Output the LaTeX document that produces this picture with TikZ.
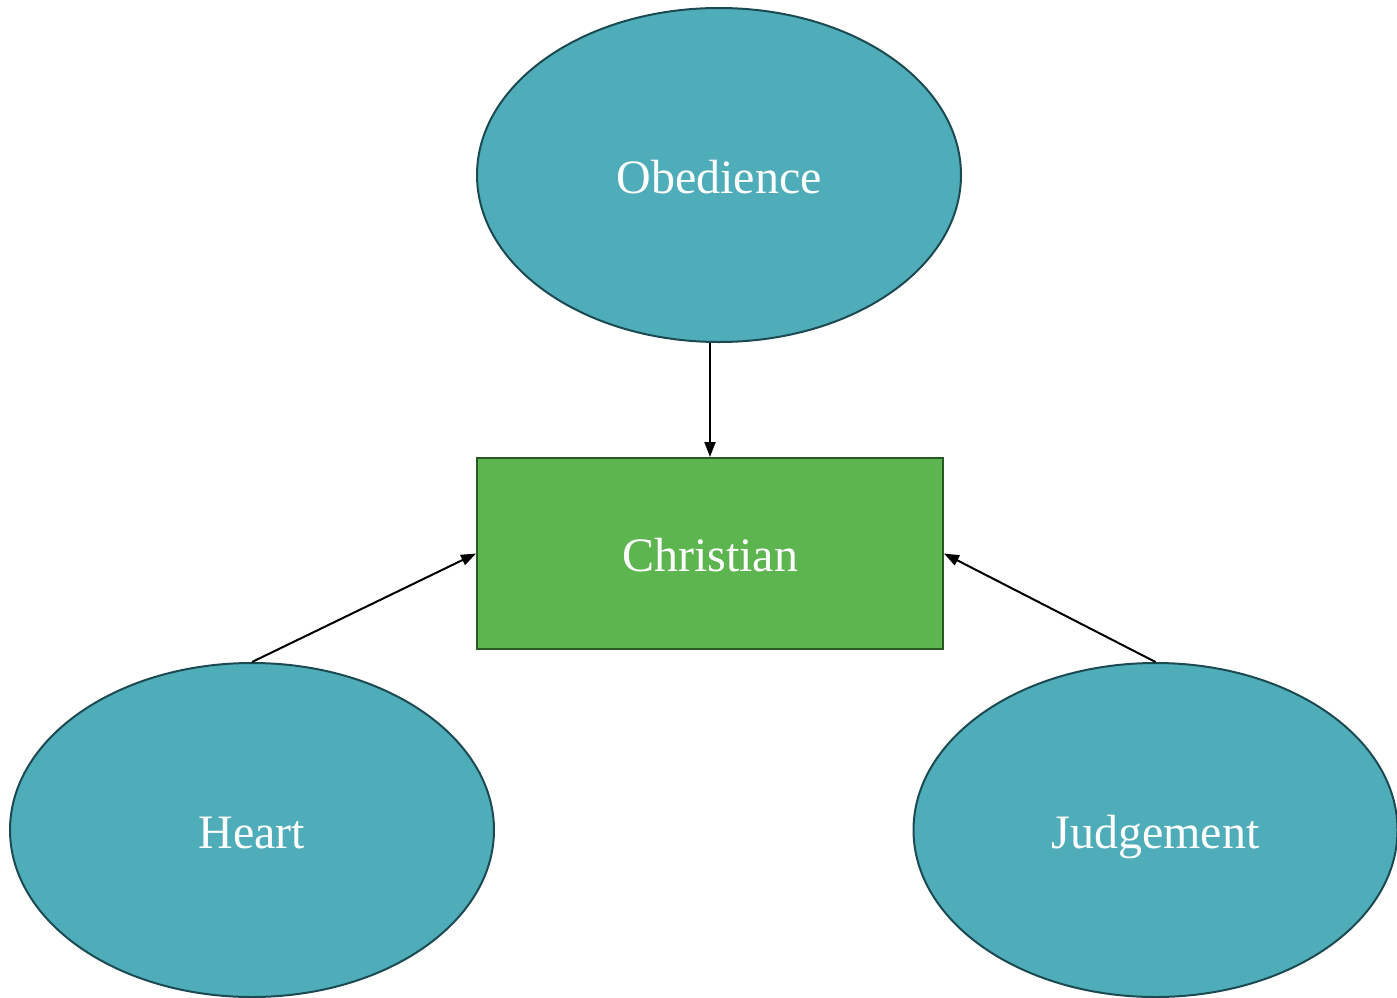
\documentclass[tikz,border=0pt]{standalone}
\usepackage{fontspec}
\setmainfont{Liberation Serif}
\usetikzlibrary{shapes.geometric,arrows.meta}
\definecolor{tealfill}{HTML}{4FADB9}
\definecolor{tealline}{HTML}{1B4A52}
\definecolor{greenfill}{HTML}{5DB54F}
\definecolor{greenline}{HTML}{2A5A24}
\begin{document}
\begin{tikzpicture}[x=1pt,y=-1pt,
	bubble/.style={ellipse, draw=tealline, fill=tealfill, line width=2pt, minimum width=484pt, minimum height=334pt, inner sep=0pt, text=white, text height=38pt, text depth=2pt, font=\fontsize{48}{52}\selectfont},
	core/.style={rectangle, draw=greenline, fill=greenfill, line width=2pt, minimum width=466pt, minimum height=191pt, inner sep=0pt, text=white, text height=38pt, text depth=2pt, font=\fontsize{48}{52}\selectfont},
	link/.style={line width=2pt, -{Triangle[length=15pt,width=11pt]}}]

	\useasboundingbox (0,0) rectangle (1397,998);

	% Nodes
	\node [bubble] (obedience) at (719,175) {Obedience};
	\node [core] (christian) at (710,553.5) {Christian};
	\node [bubble] (heart) at (252,830) {Heart};
	\node [bubble] (judgement) at (1155.5,830) {Judgement};

	% Links
	\draw [link] (obedience.south -| christian.north) -- (christian.north);
	\draw [link] (heart.north) -- (christian.west);
	\draw [link] (judgement.north) -- (christian.east);

\end{tikzpicture}
\end{document}
